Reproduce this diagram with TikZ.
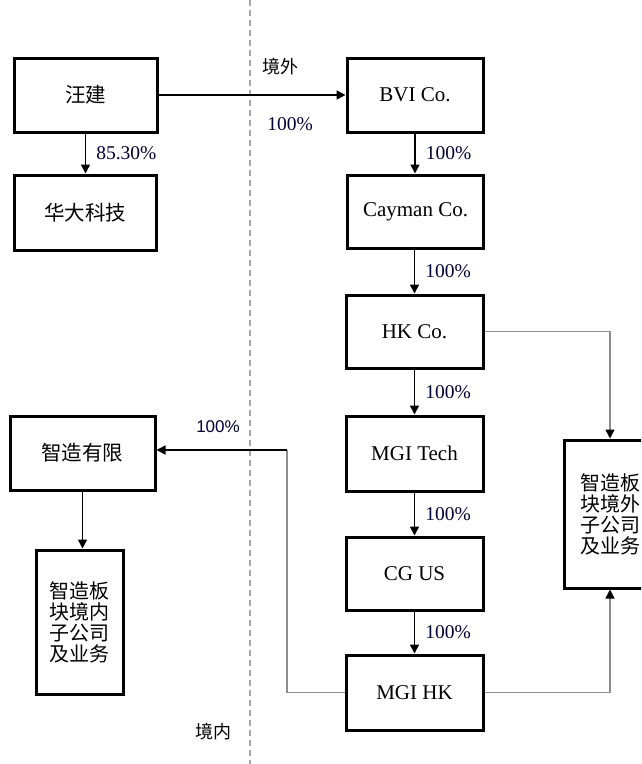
\documentclass[tikz,border=0pt]{standalone}
\usepackage{fontspec}
\setmainfont{Liberation Serif}
\newfontfamily\cjk{Noto Sans CJK SC}
\newfontfamily\arialf{Liberation Sans}
\newfontfamily\timesf{Liberation Serif}
\usetikzlibrary{arrows.meta}
\begin{document}
\begin{tikzpicture}[x=1pt,y=-1pt,
  box/.style={draw=black,line width=3pt,fill=white,inner sep=0pt,align=center},
  cn/.style={font=\cjk\fontsize{20.5}{22}\selectfont},
  cnm/.style={font=\cjk\fontsize{20}{21}\selectfont},
  en/.style={font=\timesf\fontsize{21}{24}\selectfont},
  arr/.style={line width=1.5pt,-{Triangle[length=9pt,width=9pt]}},
  garr/.style={line width=1.3pt,draw=black!45,-{Triangle[length=9pt,width=9pt,black]}},
  gline/.style={line width=1.3pt,draw=black!45},
  pct/.style={font=\timesf\fontsize{19.5}{21}\selectfont,text=black!80!blue,inner sep=0pt}]
\useasboundingbox (0,0) rectangle (641,764);
\clip (0,0) rectangle (641,764);
\fill[white] (0,0) rectangle (641,764);
% dashed border line
\coordinate (dtop) at (250,0);
\coordinate (dbot) at (250,764);
\draw[black!35,line width=1.3pt,dash pattern=on 6pt off 4pt] (dtop) -- (dbot);
% nodes
\node[box,cn,minimum width=143pt,minimum height=74pt] (wj) at (85.5,95) {汪建};
\node[box,cn,minimum width=142pt,minimum height=75pt] (hd) at (85.5,212.5) {华大科技};
\node[box,en,minimum width=136pt,minimum height=74pt] (bvi) at (415,95) {BVI Co.};
\node[box,en,minimum width=136pt,minimum height=73pt] (cay) at (415.5,211.5) {Cayman Co.};
\node[box,en,minimum width=137pt,minimum height=73pt] (hk) at (414.5,331.5) {HK Co.};
\node[box,en,minimum width=137pt,minimum height=75pt] (mgit) at (414.5,453.5) {MGI Tech};
\node[box,en,minimum width=137pt,minimum height=73pt] (cgus) at (414.5,573.5) {CG US};
\node[box,en,minimum width=137pt,minimum height=75pt] (mgihk) at (414.5,692.5) {MGI HK};
\node[box,cn,minimum width=145pt,minimum height=74pt] (zz) at (82.5,453) {智造有限};
\node[box,cnm,minimum width=87pt,minimum height=144pt] (zzin) at (79.5,622) {智造板\\块境内\\子公司\\及业务};
\node[box,cnm,minimum width=92pt,minimum height=148pt] (zzout) at (610,514) {智造板\\块境外\\子公司\\及业务};
% labels
\node[font=\cjk\fontsize{18}{20}\selectfont,anchor=west,inner sep=0pt] (lout) at (262,67) {境外};
\node[font=\cjk\fontsize{18}{20}\selectfont,anchor=west,inner sep=0pt] (lin) at (195,732) {境内};
% arrows
\draw[arr] (wj.south) -- (hd.north) node[pct,midway,right=10pt] {85.30\%};
\draw[arr] (wj.east) -- (bvi.west);
\node[pct] (p0) at (290,124) {100\%};
\draw[arr] (bvi.south) -- (bvi.south |- cay.north) node[pct,midway,right=10pt] {100\%};
\draw[arr] (cay.south -| hk.north) -- (hk.north) node[pct,midway,right=10pt] {100\%};
\draw[arr] (hk) -- (mgit) node[pct,midway,right=10pt] {100\%};
\draw[arr] (mgit) -- (cgus) node[pct,midway,right=10pt] {100\%};
\draw[arr] (cgus) -- (mgihk) node[pct,midway,right=10pt] {100\%};
\draw[arr] (zz.south) -- (zz.south |- zzin.north);
\draw[garr] (hk.east) -| (zzout.north);
\draw[garr] (mgihk.east) -| (zzout.south);
\coordinate (k1) at (287,692.5);
\coordinate (k2) at (287,450);
\draw[gline] (mgihk.west) -- (k1) -- (k2);
\draw[arr] (k2) -- (zz.east |- k2);
\node[font=\arialf\fontsize{17}{19}\selectfont,text=black!80!blue,inner sep=0pt] (p1) at (218,427) {100\%};
\end{tikzpicture}
\end{document}
